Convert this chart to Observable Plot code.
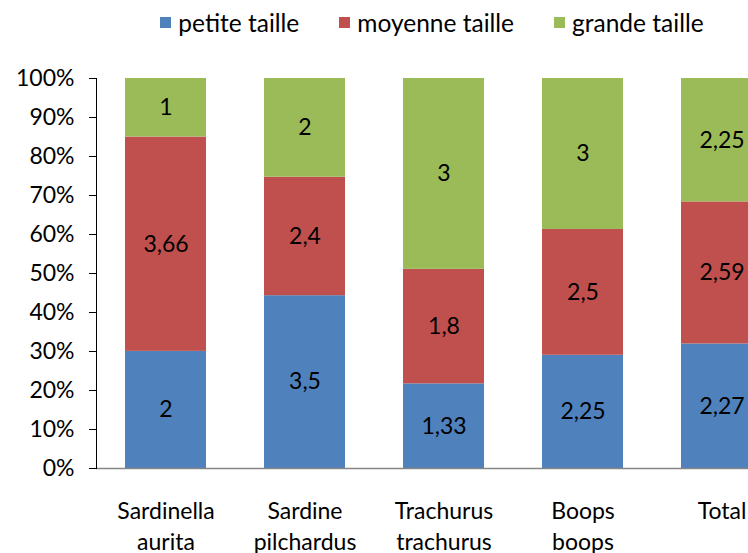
<!DOCTYPE html>
<html>
<head>
<meta charset="utf-8">
<script src="https://cdn.jsdelivr.net/npm/d3@7"></script>
<script src="https://cdn.jsdelivr.net/npm/@observablehq/plot@0.6"></script>
<style>
  html, body { margin: 0; padding: 0; background: #fff; overflow: hidden; width: 748px; height: 553px; }
  #legend { height: 45px; display: flex; justify-content: center; align-items: center; gap: 40px;
            font-family: Lato, sans-serif; font-size: 24.5px; color: #000; padding-left: 116px; box-sizing: border-box; width: 748px; }
  .item { display: flex; align-items: center; gap: 7px; }
  .sw { width: 11px; height: 11px; display: inline-block; }
  #chart svg { display: block; max-width: none; overflow: visible; }
</style>
</head>
<body>
<div id="legend"></div>
<div id="chart"></div>
<script>
const categories = ["Sardinella\naurita", "Sardine\npilchardus", "Trachurus\ntrachurus", "Boops\nboops", "Total"];
const seriesNames = ["petite taille", "moyenne taille", "grande taille"];
const seriesColors = ["#4F81BD", "#C0504D", "#9BBB59"];
const petite = [2, 3.5, 1.33, 2.25, 2.27];
const moyenne = [3.66, 2.4, 1.8, 2.5, 2.59];
const grande = [1, 2, 3, 3, 2.25];
const yTicks = [0, 0.1, 0.2, 0.3, 0.4, 0.5, 0.6, 0.7, 0.8, 0.9, 1];

const seriesValues = [petite, moyenne, grande];
const data = [];
seriesNames.forEach((s, i) => {
  categories.forEach((c, j) => data.push({cat: c, series: s, value: seriesValues[i][j]}));
});

// legend
const legend = document.getElementById("legend");
seriesNames.forEach((s, i) => {
  const it = document.createElement("span");
  it.className = "item";
  const sw = document.createElement("span");
  sw.className = "sw";
  sw.style.background = seriesColors[i];
  const tx = document.createElement("span");
  tx.textContent = s;
  it.appendChild(sw); it.appendChild(tx);
  legend.appendChild(it);
});

const fmt = v => String(v).replace(".", ",");
const font = "Lato, sans-serif";

const chart = Plot.plot({
  width: 791,
  height: 508,
  marginTop: 33,
  marginBottom: 85,
  marginLeft: 96,
  marginRight: 0,
  style: {fontFamily: font, fontSize: "22px", color: "#000", background: "#fff", overflow: "visible", maxWidth: "none"},
  x: {domain: categories, paddingInner: 0.42, paddingOuter: 0.21, label: null},
  y: {domain: [0, 1], label: null},
  color: {domain: seriesNames, range: seriesColors},
  marks: [
    Plot.barY(data, Plot.stackY({offset: "normalize", x: "cat", y: "value", fill: "series", order: seriesNames})),
    Plot.text(data, Plot.stackY({offset: "normalize", x: "cat", y: "value", z: "series", order: seriesNames,
      text: d => fmt(d.value), fill: "#000", fontSize: 23, fontFamily: font})),
    Plot.ruleY([0], {stroke: "#868686", strokeWidth: 1.3}),
    Plot.frame({anchor: "left", stroke: "#000", strokeWidth: 1}),
    Plot.axisY({ticks: yTicks, tickFormat: d => Math.round(d * 100) + "%", tickSize: 7, tickPadding: 15,
      fontSize: 23, fontFamily: font, label: null}),
    Plot.axisX({tickSize: 0, tickPadding: 29, fontSize: 23, fontFamily: font, lineHeight: 1.33, label: null})
  ]
});
document.getElementById("chart").appendChild(chart);
</script>
</body>
</html>
